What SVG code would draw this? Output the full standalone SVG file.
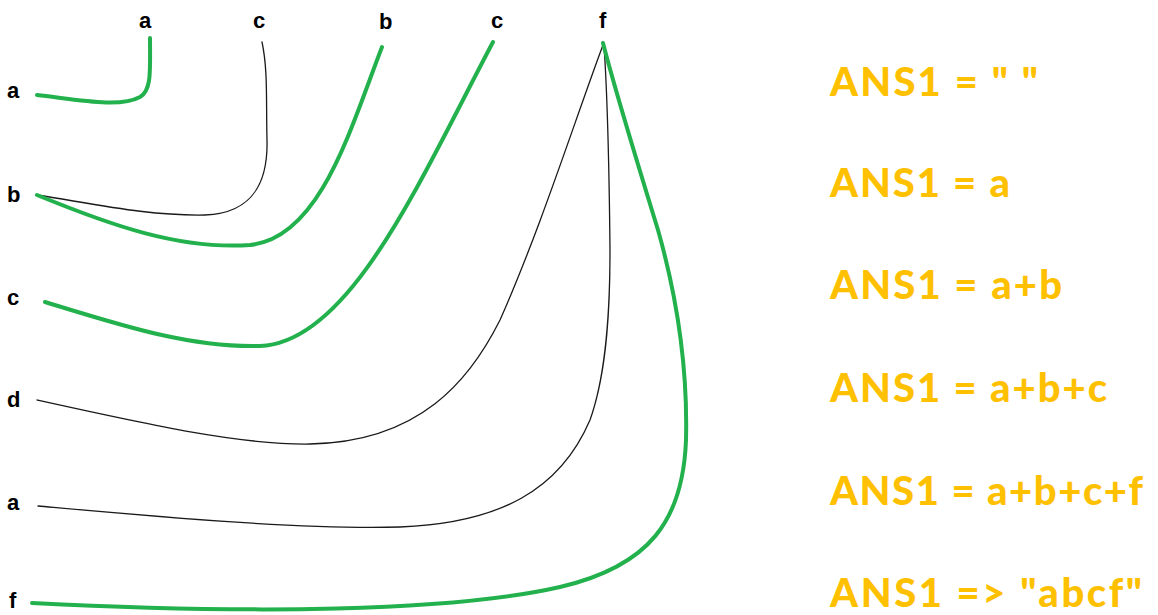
<svg xmlns="http://www.w3.org/2000/svg" width="1158" height="615" viewBox="0 0 1158 615">
<style>
.lbl{font-family:"Liberation Sans",Arial,sans-serif;font-weight:bold;font-size:22px;fill:#000}
.ans{font-family:Lato,"Liberation Sans",sans-serif;font-weight:900;font-size:40px;fill:#FFC000}
.g{fill:none;stroke:#22B14C;stroke-width:4;stroke-linecap:round;stroke-linejoin:round}
.k{fill:none;stroke:#1a1a1a;stroke-width:1.3;stroke-linecap:round}
</style>
<rect width="1158" height="615" fill="#fff"/>
<g id="top-labels">
<g id="top-a"><text class="lbl" x="139" y="28">a</text></g>
<g id="top-c1"><text class="lbl" x="253" y="28">c</text></g>
<g id="top-b"><text class="lbl" x="379" y="29">b</text></g>
<g id="top-c2"><text class="lbl" x="491" y="28">c</text></g>
<g id="top-f"><text class="lbl" x="599" y="28">f</text></g>
</g>
<g id="left-labels">
<g id="left-a1"><text class="lbl" x="7" y="98">a</text></g>
<g id="left-b"><text class="lbl" x="7" y="202">b</text></g>
<g id="left-c"><text class="lbl" x="7" y="305">c</text></g>
<g id="left-d"><text class="lbl" x="7" y="407">d</text></g>
<g id="left-a2"><text class="lbl" x="7" y="510">a</text></g>
<g id="left-f"><text class="lbl" x="9" y="608">f</text></g>
</g>
<g id="connectors">
<path class="g" d="M37,95 C80,100 120,108 140,97 C152,90 150,70 150,38"/>
<path class="k" d="M37,195 C100,205 150,216 205,215 C255,213 268,180 267,140 C266,100 268,70 262,42"/>
<path class="g" d="M37,195 C110,225 180,250 250,245 C320,238 350,130 382,47"/>
<path class="g" d="M45,302 C120,325 190,348 260,346 C350,343 420,180 493,42"/>
<path class="k" d="M37,400 C150,425 240,445 310,444 C420,442 470,380 500,320 C540,230 575,120 603,45"/>
<path class="k" d="M38,506 C150,516 300,530 400,527 C500,523 560,490 590,420 C608,370 610,300 610,250 C609,150 607,90 604,45"/>
<path class="g" d="M32,603 C250,614 450,612 560,587 C650,566 683,520 686,440 C688,360 675,290 658,230 C638,165 615,90 603,43"/>
</g>
<g id="answers">
<g id="ans1"><text class="ans" x="830" y="96" textLength="208" lengthAdjust="spacing">ANS1 = " "</text></g>
<g id="ans2"><text class="ans" x="830" y="197" textLength="180" lengthAdjust="spacing">ANS1 = a</text></g>
<g id="ans3"><text class="ans" x="830" y="299" textLength="232" lengthAdjust="spacing">ANS1 = a+b</text></g>
<g id="ans4"><text class="ans" x="830" y="402" textLength="277" lengthAdjust="spacing">ANS1 = a+b+c</text></g>
<g id="ans5"><text class="ans" x="830" y="505" textLength="313" lengthAdjust="spacing">ANS1 = a+b+c+f</text></g>
<g id="ans6"><text class="ans" x="830" y="607" textLength="312" lengthAdjust="spacing">ANS1 =&gt; "abcf"</text></g>
</g>
</svg>
